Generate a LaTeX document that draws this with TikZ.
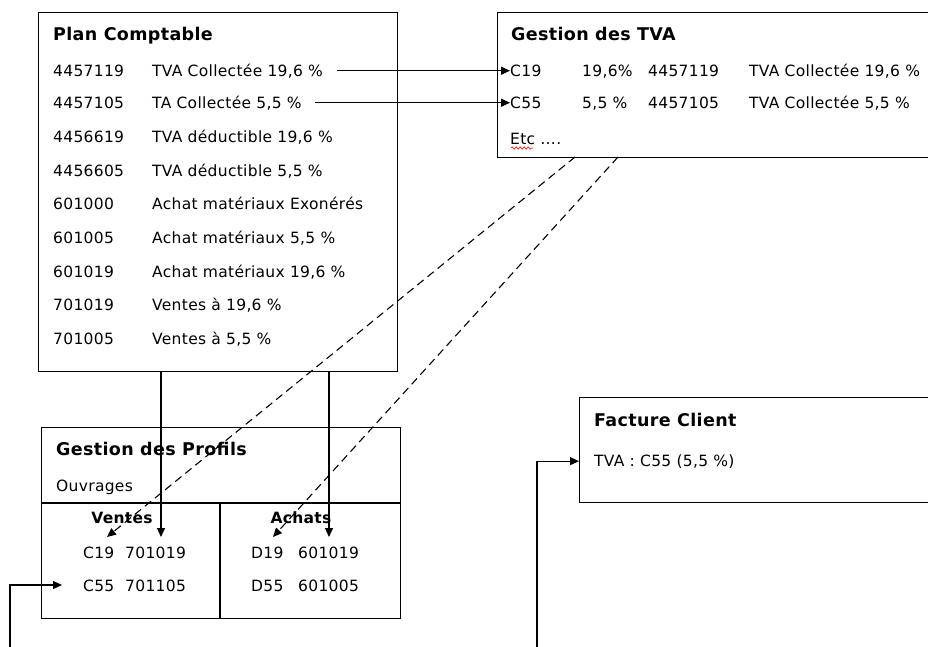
\documentclass[tikz,border=0pt]{standalone}
\usepackage{fontspec}
\setmainfont{DejaVu Sans}[LetterSpace=2]
\usetikzlibrary{arrows.meta,decorations.pathmorphing}
\begin{document}
\begin{tikzpicture}[x=1pt,y=-1pt,
  box/.style={draw,line width=1.2pt,rectangle,inner sep=0pt,anchor=north west},
  txt/.style={anchor=base west,inner sep=0pt,font=\fontsize{15.5}{19}\selectfont},
  txtc/.style={anchor=base,inner sep=0pt,font=\fontsize{15.5}{19}\selectfont\bfseries},
  ttl/.style={anchor=base west,inner sep=0pt,font=\fontsize{17.5}{20}\selectfont\bfseries},
  arr/.style={line width=1.1pt,-{Triangle[length=9pt,width=8pt]}},
  dsh/.style={line width=1.1pt,dash pattern=on 8pt off 5pt,-{Triangle[length=9pt,width=8pt]}},
  dv/.style={line width=1.2pt}]
\useasboundingbox (0,0) rectangle (928,646);
\clip (0,0) rectangle (928,646);
\fill[white] (0,0) rectangle (928,646);

% boxes
\node[box,minimum width=359pt,minimum height=359pt] (pc) at (38,12) {};
\node[box,minimum width=460pt,minimum height=145pt] (tva) at (497,12) {};
\node[box,minimum width=359pt,minimum height=191pt] (prof) at (41,427) {};
\node[box,minimum width=400pt,minimum height=105pt] (fac) at (579,397) {};

% profils dividers
\coordinate (hdiv) at (41,503);
\coordinate (vdiv) at (220,503);
\draw[dv] (hdiv) -- (hdiv -| prof.east);
\draw[dv] (vdiv) -- (vdiv |- prof.south);

% Plan comptable
\node[ttl] (pct) at (53,40) {Plan Comptable};
\node[txt] (pc1c) at (53,76) {4457119};  \node[txt] (pc1l) at (152,76) {TVA Collectée 19,6 \%};
\node[txt] (pc2c) at (53,108) {4457105}; \node[txt] (pc2l) at (152,108) {TA Collectée 5,5 \%};
\node[txt] (pc3c) at (53,142) {4456619}; \node[txt] (pc3l) at (152,142) {TVA déductible 19,6 \%};
\node[txt] (pc4c) at (53,176) {4456605}; \node[txt] (pc4l) at (152,176) {TVA déductible 5,5 \%};
\node[txt] (pc5c) at (53,209) {601000};  \node[txt] (pc5l) at (152,209) {Achat matériaux Exonérés};
\node[txt] (pc6c) at (53,243) {601005};  \node[txt] (pc6l) at (152,243) {Achat matériaux 5,5 \%};
\node[txt] (pc7c) at (53,277) {601019};  \node[txt] (pc7l) at (152,277) {Achat matériaux 19,6 \%};
\node[txt] (pc8c) at (53,310) {701019};  \node[txt] (pc8l) at (152,310) {Ventes à 19,6 \%};
\node[txt] (pc9c) at (53,344) {701005};  \node[txt] (pc9l) at (152,344) {Ventes à 5,5 \%};

% Gestion des TVA
\node[ttl] (tvat) at (511,40) {Gestion des TVA};
\node[txt] (tv1a) at (510,76) {C19};  \node[txt] (tv1b) at (582,76) {19,6\%};
\node[txt] (tv1c) at (648,76) {4457119}; \node[txt] (tv1d) at (749,76) {TVA Collectée 19,6 \%};
\node[txt] (tv2a) at (510,108) {C55};  \node[txt] (tv2b) at (582,108) {5,5 \%};
\node[txt] (tv2c) at (648,108) {4457105}; \node[txt] (tv2d) at (749,108) {TVA Collectée 5,5 \%};
\node[txt] (etc) at (510,144) {Etc ….};
\coordinate (wv) at (511,148);
\draw[red,line width=0.6pt,decorate,decoration={snake,amplitude=1.2pt,segment length=4pt}] (wv) -- ++(22,0);

% Gestion des profils
\node[ttl] (prt) at (56,455) {Gestion des Profils};
\node[txt] (ouv) at (56,491) {Ouvrages};
\node[txtc] (ven) at (122,523) {Ventes};
\node[txtc] (ach) at (301,523) {Achats};
\node[txt] (v1a) at (83,558) {C19};  \node[txt] (v1b) at (125,558) {701019};
\node[txt] (v2a) at (83,591) {C55};  \node[txt] (v2b) at (125,591) {701105};
\node[txt] (a1a) at (251,558) {D19};  \node[txt] (a1b) at (298,558) {601019};
\node[txt] (a2a) at (251,591) {D55};  \node[txt] (a2b) at (298,591) {601005};

% Facture client
\node[ttl] (fact) at (594,426) {Facture Client};
\node[txt] (fac1) at (594,466) {TVA : C55 (5,5 \%)};

% connectors
\coordinate (s1) at ([xshift=14pt]pc1l.east);
\coordinate (s2) at ([xshift=13pt]pc2l.east);
\draw[arr] (s1) -- (s1 -| tv1a.west);
\draw[arr] (s2) -- (s2 -| tv2a.west);

\coordinate (d1s) at (575,157);
\coordinate (d1e) at (107,537);
\coordinate (d2s) at (618,157);
\coordinate (d2e) at (273,537);
\draw[dsh] (d1s) -- (d1e);
\draw[dsh] (d2s) -- (d2e);

\coordinate (p1) at (161,537);
\coordinate (p2) at (329,537);
\draw[arr] (p1 |- pc.south) -- (p1);
\draw[arr] (p2 |- pc.south) -- (p2);

\coordinate (b1s) at (10,660);
\coordinate (b1e) at (62,585);
\draw[arr] (b1s) |- (b1e);

\coordinate (b2s) at (537,660);
\draw[arr] (b2s) |- (b2s |- fac1.west) -- (fac.west |- fac1.west);
\end{tikzpicture}
\end{document}
